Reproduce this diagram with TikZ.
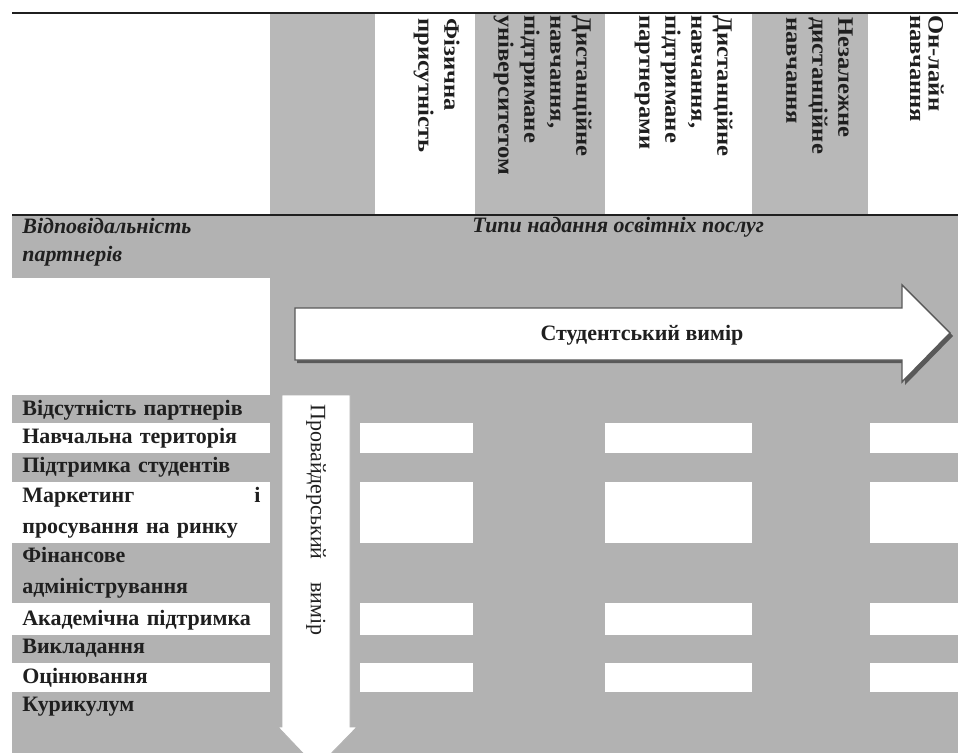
\documentclass[tikz,border=0pt]{standalone}
\usepackage{fontspec}
\setmainfont{Liberation Serif}
\newfontfamily\headfont[FakeStretch=1.12]{Liberation Serif}
\definecolor{bandgray}{gray}{0.70}
\definecolor{colgray}{gray}{0.72}
\definecolor{ink}{gray}{0.12}
\definecolor{shadowgray}{gray}{0.35}

\begin{document}
\begin{tikzpicture}[
    % GLOBAL CFG
    x=0.2mm, y=-0.2mm,
    font=\bfseries\fontsize{12.5}{14.6}\selectfont,
    % Styles
    rowlabel/.style={% For the partner rows on the left
        anchor=west,
        inner sep=0pt,
        text width=47.6mm,
        align=left,
        text=ink,
        font=\bfseries\fontsize{12.5}{17.5}\selectfont,
        },
    colhead/.style={% For the rotated column titles
        rotate=-90,
        anchor=north west,
        inner sep=0pt,
        align=left,
        text=ink,
        font=\headfont\bfseries\fontsize{12.5}{14.8}\selectfont,
        },
    headline/.style={% Italic titles of the table
        anchor=west,
        inner sep=0pt,
        align=left,
        text=ink,
        font=\bfseries\itshape\fontsize{12.5}{16}\selectfont,
        },
    bigarrow/.style={% White block arrows
        fill=white,
        draw=shadowgray,
        line width=0.8pt,
        },
    tabrule/.style={% Horizontal lines of the table
        draw=ink,
        line width=1.1pt,
        },
    ]

    \useasboundingbox (0,0) rectangle (958,753);
    \clip (0,0) rectangle (958,753);

    % Draw the top part: columns
    \fill[colgray] (270,13) rectangle (375,215);
    \fill[colgray] (475,13) rectangle (605,215);
    \fill[colgray] (752,13) rectangle (868,215);

    % Draw the lower part: gray ground and white bands
    \fill[bandgray] (12,215) rectangle (958,753);
    \fill[white] (12,278) rectangle (270,395);
    \foreach \ytop/\ybot in {423/453, 482/543, 603/635, 663/692}{
        \fill[white] (12,\ytop) rectangle (270,\ybot);
        \foreach \xl/\xr in {360/473, 605/752, 870/958}
            \fill[white] (\xl,\ytop) rectangle (\xr,\ybot);
    }

    % Lines
    \draw[tabrule] (12,13) -- (958,13);
    \draw[tabrule] (12,215) -- (958,215);

    % Column titles
    \node[colhead] (col_phys) at (460,18) {Фізична\\присутність};
    \node[colhead] (col_univ) at (592,15) {Дистанційне\\навчання,\\підтримане\\університетом};
    \node[colhead] (col_part) at (733,15) {Дистанційне\\навчання,\\підтримане\\партнерами};
    \node[colhead] (col_indep) at (853,17) {Незалежне\\дистанційне\\навчання};
    \node[colhead, font=\headfont\bfseries\fontsize{12.5}{10.5}\selectfont]
        (col_online) at (944,15) {Он-лайн\\навчання};

    % Titles
    \node[headline] (resp) at (22,242) {Відповідальність\\партнерів};
    \node[headline] (types) at (472,227) {Типи надання освітніх послуг};

    % Student arrow
    \fill[shadowgray] (297,311) -- (905,311) -- (905,288) -- (953,336)
        -- (905,385) -- (905,363) -- (297,363) -- cycle;
    \draw[bigarrow] (295,308) -- (902,308) -- (902,285) -- (950,333)
        -- (902,382) -- (902,360) -- (295,360) -- cycle;
    \node[text=ink] (student) at (642,335) {Студентський вимір};

    % Provider arrow
    \draw[bigarrow, draw=gray!60, line width=0.5pt] (282,395) -- (350,395)
        -- (350,727) -- (357,727) -- (317,768) -- (278,727) -- (282,727) -- cycle;
    \node[colhead, anchor=west, font=\fontsize{12.5}{14.6}\selectfont]
        (provider) at (316,404) {Провайдерський\hspace{13pt}вимір};

    % Rows
    \node[rowlabel] (r_none) at (22,410) {Відсутність партнерів};
    \node[rowlabel] (r_site) at (22,438) {Навчальна територія};
    \node[rowlabel] (r_supp) at (22,467) {Підтримка студентів};
    \node[rowlabel] (r_mark) at (22,513) {Маркетинг\hfill і\\просування на ринку};
    \node[rowlabel] (r_fin) at (22,573) {Фінансове\\адміністрування};
    \node[rowlabel] (r_acad) at (22,620) {Академічна підтримка};
    \node[rowlabel] (r_teach) at (22,648) {Викладання};
    \node[rowlabel] (r_assess) at (22,678) {Оцінювання};
    \node[rowlabel] (r_curr) at (22,707) {Курикулум};

\end{tikzpicture}
\end{document}
